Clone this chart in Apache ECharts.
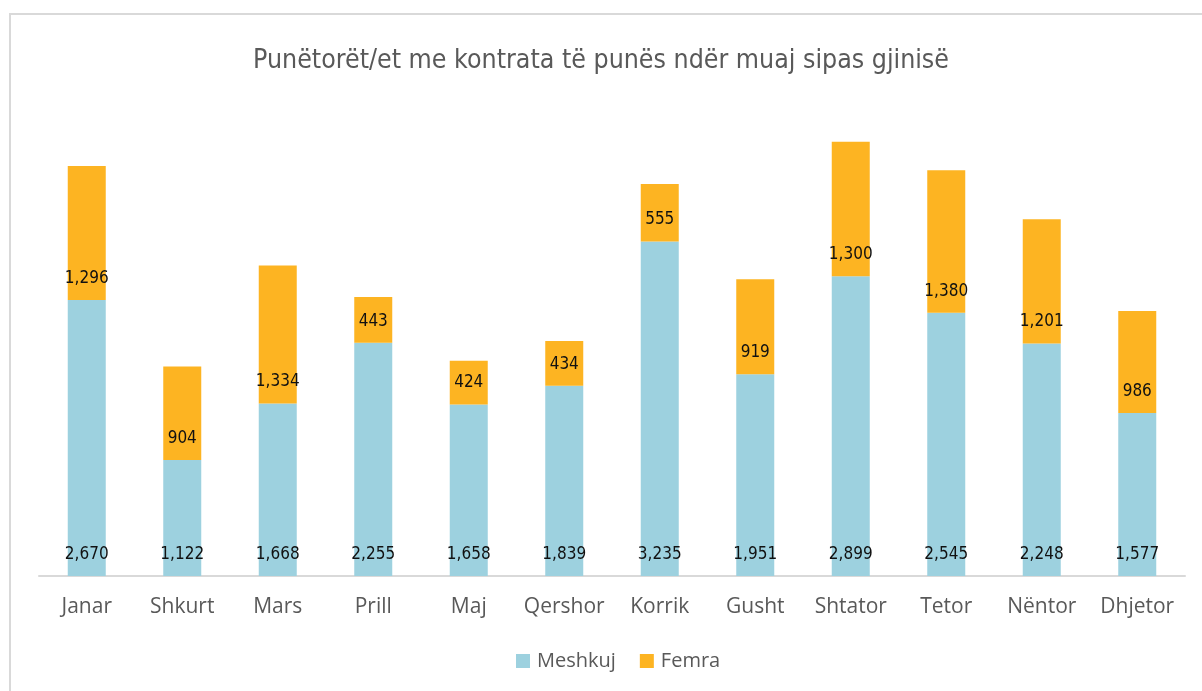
<!DOCTYPE html>
<html><head><meta charset="utf-8">
<script src="https://cdn.jsdelivr.net/npm/echarts@6/dist/echarts.min.js"></script>
<style>html,body{margin:0;padding:0;background:#fff}#c{width:1202px;height:691px}
#frame{position:absolute;left:9px;top:13px;width:1300px;height:800px;border:2px solid #d9d9d9;box-sizing:border-box;pointer-events:none}</style>
</head><body><div id="c"></div><div id="frame"></div>
<script>
const categories = ["Janar","Shkurt","Mars","Prill","Maj","Qershor","Korrik","Gusht","Shtator","Tetor","Nëntor","Dhjetor"];
const meshkuj = [2670,1122,1668,2255,1658,1839,3235,1951,2899,2545,2248,1577];
const femra = [1296,904,1334,443,424,434,555,919,1300,1380,1201,986];
const COND = "'DejaVu Sans Condensed', 'Liberation Sans Narrow', 'Roboto Condensed', sans-serif";
const chart = echarts.init(document.getElementById('c'));
const labelStyle = {show:true, position:'insideBottom', distance:13, color:'#111', fontFamily:COND, fontSize:17,
  formatter: p => p.value.toLocaleString('en-US')};
chart.setOption({
  animation:false,
  title:{text:'Punëtorët/et me kontrata të punës ndër muaj sipas gjinisë', left:'center', top:43,
    textStyle:{fontFamily:COND, fontWeight:'normal', fontSize:26.5, color:'#595959'}},
  legend:{bottom:15, left:511, itemWidth:14, itemHeight:14, itemGap:24, icon:'rect',
    textStyle:{fontFamily:'Open Sans', fontSize:20, color:'#595959', padding:[0,0,0,2]}},
  grid:{left:39, right:17, top:59, bottom:115},
  xAxis:{type:'category', data:categories, axisTick:{show:false},
    axisLine:{lineStyle:{color:'#d9d9d9', width:2}},
    axisLabel:{interval:0, fontFamily:'Open Sans', fontSize:21, color:'#595959', margin:21}},
  yAxis:{type:'value', min:0, max:5000, show:false, splitLine:{show:false}},
  series:[
    {name:'Meshkuj', type:'bar', stack:'a', data:meshkuj, barWidth:38, itemStyle:{color:'#9DD1DF'}, label:labelStyle},
    {name:'Femra', type:'bar', stack:'a', data:femra, barWidth:38, itemStyle:{color:'#FDB422'}, label:labelStyle}
  ]
});
</script></body></html>
